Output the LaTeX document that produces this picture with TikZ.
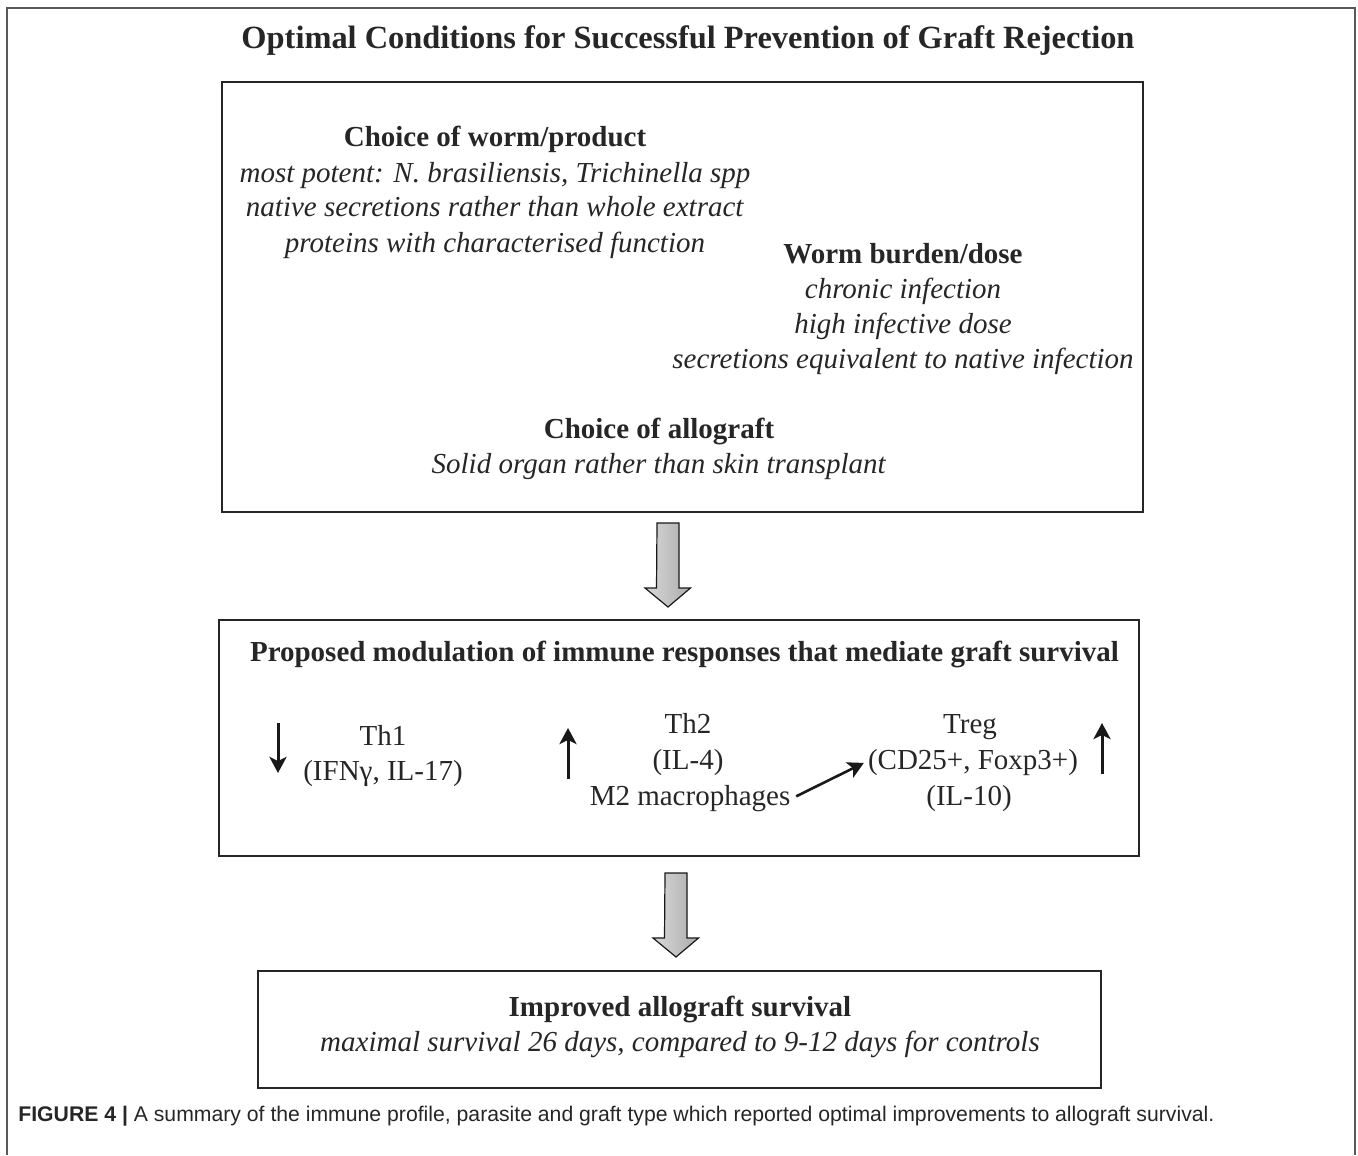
\documentclass[tikz,border=0pt]{standalone}
\usepackage{fontspec}
\setmainfont{Liberation Serif}
\newfontfamily\captionfont{Liberation Sans}
\usetikzlibrary{arrows.meta}

\begin{document}
\begin{tikzpicture}[
            x=0.5pt, y=-0.5pt,
            every node/.style={
                    text=black!85,
                    inner sep=1pt,
                    font=\fontsize{14.5pt}{17.5pt}\selectfont
                },
            box/.style={
                    rectangle,
                    draw=black!85,
                    line width=0.8pt,
                    inner sep=0pt
                },
            group/.style={
                    anchor=base,
                    align=center
                },
            frame/.style={
                    draw=black!65,
                    line width=1pt
                },
            blockarrow/.style={
                    draw=black!90,
                    line width=0.6pt,
                    left color=gray!30,
                    right color=gray!65
                },
            indicator/.style={
                    -{Stealth[length=8pt, width=8.5pt, inset=2pt]},
                    line width=1.5pt,
                    black!90
                }
            ]

            \useasboundingbox (0,0) rectangle (1358,1155);

            % outer frame
            \draw [frame] (7,1155) -- (7,8) -- (1355,8) -- (1355,1155);

            % title
            \node (title) [group, font=\fontsize{16.2pt}{19pt}\selectfont\bfseries] at (688,49)
                {Optimal Conditions for Successful Prevention of Graft Rejection};

            % kotak kondisi (base = baris terakhir)
            \node (cond) [box, minimum width=460.5pt, minimum height=215pt] at (682.5,297) {};

            \node (worm) [group] at (495,252) {\textbf{Choice of worm/product}\\
                \textit{most potent: N. brasiliensis, Trichinella spp}\\
                \textit{native secretions rather than whole extract}\\
                \textit{proteins with characterised function}};

            \node (burden) [group] at (903,368) {\textbf{Worm burden/dose}\\
                \textit{chronic infection}\\
                \textit{high infective dose}\\
                \textit{secretions equivalent to native infection}};

            \node (allograft) [group] at (659,473) {\textbf{Choice of allograft}\\
                \textit{Solid organ rather than skin transplant}};

            % kotak modulasi
            \node (modul) [box, minimum width=460pt, minimum height=118pt] at (679,738) {};

            \node (modtitle) [group, font=\fontsize{14.5pt}{17.5pt}\selectfont\bfseries] at (684.5,661)
                {Proposed modulation of immune responses that mediate graft survival};

            \node (th1) [group] at (383,780) {Th1\\(IFNγ, IL-17)};
            \node (th2) [group, font=\fontsize{14.5pt}{18pt}\selectfont] at (688,769) {Th2\\(IL-4)};
            \node (m2) [group] at (690,805) {M2 macrophages};
            \node (treg) [group] at (970,733) {Treg};
            \node (cd25) [group] at (973,769) {(CD25+, Foxp3+)};
            \node (il10) [group] at (969,805) {(IL-10)};

            % kotak hasil
            \node (hasil) [box, minimum width=421.5pt, minimum height=58.5pt] at (679.5,1029.5) {};

            \node (improved) [group] at (680,1051) {\textbf{Improved allograft survival}\\
                \textit{maximal survival 26 days, compared to 9-12 days for controls}};

            % caption
            \node (caption) [anchor=base west, inner sep=0pt,
                font=\captionfont\fontsize{10.6pt}{12pt}\selectfont] at (18,1121)
                {\textbf{FIGURE 4 |} A summary of the immune profile, parasite and graft type which reported optimal improvements to allograft survival.};

            % panah blok
            \coordinate (top1) at (668,523);
            \coordinate (tip1) at (668,607);
            \coordinate (top2) at (676,873);
            \coordinate (tip2) at (676,957);

            \shadedraw [blockarrow] (top1) ++(-11,0) -- ++(22,0) -- ++(0,65) -- ++(11.5,0)
                -- (tip1) -- ++(-23,-19) -- ++(11.5,0) -- cycle;
            \shadedraw [blockarrow] (top2) ++(-11,0) -- ++(22,0) -- ++(0,65) -- ++(11.5,0)
                -- (tip2) -- ++(-23,-19) -- ++(11.5,0) -- cycle;

            % panah naik turun
            \coordinate (th1a) at (278,723);
            \coordinate (th1b) at (278,773);
            \coordinate (th2a) at (568,779);
            \coordinate (th2b) at (568,728);
            \coordinate (trega) at (1102,774);
            \coordinate (tregb) at (1102,723);

            \draw [indicator] (th1a) -- (th1b);
            \draw [indicator] (th2a) -- (th2b);
            \draw [indicator] (trega) -- (tregb);
            \draw [indicator, line width=1.3pt, shorten <=2pt, shorten >=1pt] (m2.east) -- (cd25.west);

        \end{tikzpicture}
\end{document}
